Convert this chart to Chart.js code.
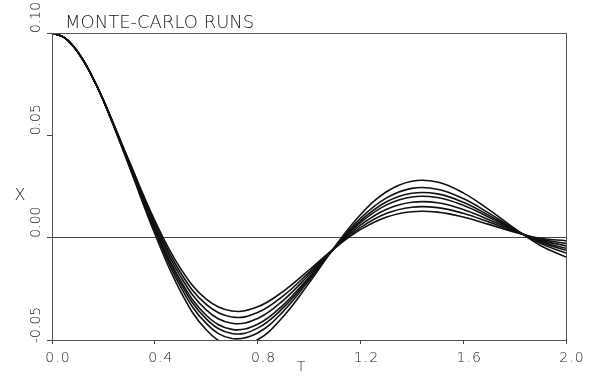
<!DOCTYPE html>
<html lang="en">
<head>
  <meta charset="UTF-8">
  <title>Monte-Carlo runs</title>
  <script src="https://cdn.jsdelivr.net/npm/chart.js"></script>
  <style>
    body { margin: 0; background: #fff; }
    #wrap { width: 593px; height: 380px; position: relative; }
  </style>
</head>
<body>
  <div id="wrap"><canvas id="chartCanvas"></canvas></div>

  <script>
    // time axis (a couple of extra samples near the start, where the curve bends)
    const tValues = [0.0, 0.05, 0.1, 0.15, 0.2, 0.3, 0.4, 0.5, 0.6, 0.7, 0.8, 0.9, 1.0,
                     1.1, 1.2, 1.3, 1.4, 1.5, 1.6, 1.7, 1.8, 1.9, 2.0];

    // X for each run
    const run1 = [0.1000, 0.0976, 0.0908, 0.0803, 0.0669, 0.0349, 0.0019, -0.0262, -0.0450, -0.0528, -0.0499, -0.0385, -0.0222,
                  -0.0045, 0.0112, 0.0223, 0.0276, 0.0272, 0.0219, 0.0137, 0.0045, -0.0038, -0.0095];
    const run2 = [0.1000, 0.0976, 0.0908, 0.0803, 0.0670, 0.0355, 0.0033, -0.0239, -0.0419, -0.0493, -0.0466, -0.0360, -0.0209,
                  -0.0048, 0.0094, 0.0193, 0.0241, 0.0237, 0.0191, 0.0120, 0.0041, -0.0028, -0.0075];
    const run3 = [0.1000, 0.0976, 0.0908, 0.0803, 0.0671, 0.0359, 0.0042, -0.0222, -0.0397, -0.0468, -0.0442, -0.0342, -0.0200,
                  -0.0049, 0.0082, 0.0174, 0.0217, 0.0214, 0.0173, 0.0109, 0.0038, -0.0022, -0.0062];
    const run4 = [0.1000, 0.0976, 0.0908, 0.0803, 0.0671, 0.0362, 0.0050, -0.0209, -0.0379, -0.0448, -0.0423, -0.0328, -0.0193,
                  -0.0050, 0.0073, 0.0159, 0.0199, 0.0196, 0.0158, 0.0100, 0.0036, -0.0018, -0.0052];
    const run5 = [0.1000, 0.0976, 0.0907, 0.0803, 0.0672, 0.0367, 0.0062, -0.0189, -0.0353, -0.0418, -0.0395, -0.0306, -0.0181,
                  -0.0051, 0.0061, 0.0138, 0.0173, 0.0171, 0.0138, 0.0088, 0.0033, -0.0012, -0.0040];
    const run6 = [0.1000, 0.0976, 0.0907, 0.0803, 0.0672, 0.0371, 0.0073, -0.0170, -0.0326, -0.0388, -0.0366, -0.0284, -0.0170,
                  -0.0051, 0.0049, 0.0118, 0.0149, 0.0147, 0.0119, 0.0076, 0.0030, -0.0007, -0.0028];
    const run7 = [0.1000, 0.0975, 0.0906, 0.0802, 0.0672, 0.0375, 0.0084, -0.0150, -0.0300, -0.0358, -0.0338, -0.0262, -0.0158,
                  -0.0051, 0.0039, 0.0100, 0.0127, 0.0125, 0.0101, 0.0065, 0.0027, -0.0003, -0.0015];

    const xTicks = [0.0, 0.4, 0.8, 1.2, 1.6, 2.0];
    const yTicks = [-0.05, 0.00, 0.05, 0.10];

    const runs = [run1, run2, run3, run4, run5, run6, run7];
    const FONT = '"DejaVu Sans", "Liberation Sans", sans-serif';

    // plotter-style frame and labels
    const plotterText = {
      id: 'plotterText',
      afterDraw(chart) {
        const { ctx, chartArea: a, scales: { x, y } } = chart;
        ctx.save();
        ctx.strokeStyle = '#555';
        ctx.lineWidth = 1;
        ctx.strokeRect(a.left + 0.5, a.top + 0.5, a.right - a.left, a.bottom - a.top);

        ctx.fillStyle = '#222';
        ctx.font = '200 14px ' + FONT;
        ctx.letterSpacing = '1px';
        ctx.textAlign = 'center';
        ctx.textBaseline = 'middle';
        xTicks.forEach(v => {
          ctx.fillText(v.toFixed(1), x.getPixelForValue(v) + 6, a.bottom + 18);
        });

        ctx.letterSpacing = '0px';
        yTicks.forEach(v => {
          ctx.save();
          ctx.translate(36, y.getPixelForValue(v) + (v < 0 ? 3 : 0));
          ctx.rotate(-Math.PI / 2);
          ctx.textAlign = 'left';
          ctx.fillText(v.toFixed(2), 0, 0);
          ctx.restore();
        });

        ctx.font = '200 16px ' + FONT;
        ctx.fillText('X', 20, 196);
        ctx.font = '200 14px ' + FONT;
        ctx.fillText('T', 301, 367);

        ctx.font = '200 18px ' + FONT;
        ctx.textAlign = 'left';
        ctx.textBaseline = 'alphabetic';
        ctx.fillText('MONTE-CARLO RUNS', 65, 28);
        ctx.restore();
      }
    };

    new Chart(document.getElementById('chartCanvas'), {
      type: 'line',
      data: {
        datasets: runs.map((r, i) => ({
          label: 'run ' + (i + 1),
          data: tValues.map((t, j) => ({ x: t, y: r[j] })),
          borderColor: '#111',
          borderWidth: 1.6,
          pointRadius: 0,
          tension: 0.4,
          fill: false
        }))
      },
      options: {
        responsive: true,
        maintainAspectRatio: false,
        animation: false,
        layout: { padding: { top: 33, right: 27, left: 0, bottom: 0 } },
        plugins: { legend: { display: false }, tooltip: { enabled: false } },
        scales: {
          x: {
            type: 'linear', min: 0, max: 2,
            ticks: { stepSize: 0.4, display: false },
            grid: { color: 'rgba(0,0,0,0)', tickColor: '#444', tickLength: 4 },
            border: { color: '#444' },
            afterFit: s => { s.height = 40; }
          },
          y: {
            type: 'linear', min: -0.05, max: 0.1,
            ticks: { stepSize: 0.05, display: false },
            grid: {
              color: c => (c.tick && Math.abs(c.tick.value) < 1e-9 ? '#444' : 'rgba(0,0,0,0)'),
              tickColor: '#444', tickLength: 5
            },
            border: { color: '#444' },
            afterFit: s => { s.width = 52; }
          }
        }
      },
      plugins: [plotterText]
    });
  </script>
</body>
</html>
